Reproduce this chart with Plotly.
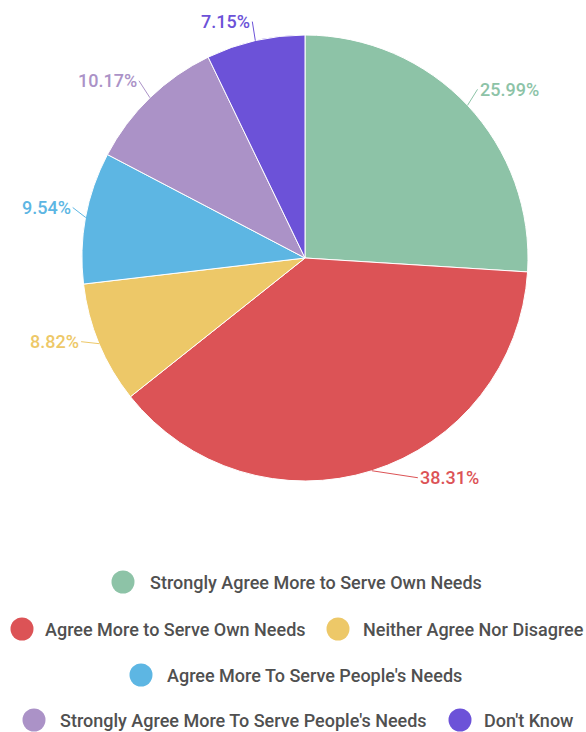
import math
import plotly.graph_objects as go

categories = [
    "Strongly Agree More to Serve Own Needs",
    "Agree More to Serve Own Needs",
    "Neither Agree Nor Disagree",
    "Agree More To Serve People's Needs",
    "Strongly Agree More To Serve People's Needs",
    "Don't Know",
]
values = [25.99, 38.31, 8.82, 9.54, 10.17, 7.15]
colors = ["#8DC3A7", "#DC5356", "#EDC868", "#5DB6E3", "#AB92C7", "#6C52D8"]

# style: label offsets (px) from slice arc midpoint, and text anchor side
label_offsets = [(10, -16, "left"), (46, 7, "left"), (-18, -2, "right"),
                 (-13, -10, "right"), (-11, -17, "right"), (-3, -19, "right")]

W, H = 586, 732

def px(x):
    return x / W

def py(y):
    return 1 - y / H

# pie geometry in page pixels
cx, cy, R = 305, 258, 223

fig = go.Figure()
fig.add_trace(go.Pie(
    labels=categories,
    values=values,
    sort=False,
    direction="clockwise",
    rotation=0,
    marker=dict(colors=colors, line=dict(color="white", width=1)),
    textinfo="none",
    showlegend=False,
    hoverinfo="label+percent",
    domain=dict(x=[px(cx - R), px(cx + R)], y=[py(cy + R), py(cy - R)]),
))

# percentage labels with leader lines at slice midpoints
total = sum(values)
cum = 0.0
for i, v in enumerate(values):
    mid = (cum + v / 2) / total * 2 * math.pi
    cum += v
    ax_pt = cx + R * math.sin(mid)
    ay_pt = cy - R * math.cos(mid)
    dx, dy, side = label_offsets[i]
    fig.add_annotation(
        xref="paper", yref="paper", x=px(ax_pt), y=py(ay_pt),
        text=f"{v:.2f}%", showarrow=True,
        ax=dx, ay=dy, axref="pixel", ayref="pixel",
        arrowhead=0, arrowwidth=1, arrowcolor=colors[i],
        xanchor=side, yanchor="middle",
        font=dict(family="Roboto", size=18, color=colors[i], weight=500),
    )

# custom legend: (row y px, [(circle x px, text x px, index)])
legend_rows = [
    (582, [(123, 148, 0)]),
    (629, [(22, 43, 1), (338, 361, 2)]),
    (675, [(141, 165, 3)]),
    (720, [(34, 58, 4), (460, 482, 5)]),
]
r = 11.5
for ypx, items in legend_rows:
    for ccx, tx, i in items:
        fig.add_shape(type="circle", xref="paper", yref="paper",
                      x0=px(ccx - r), x1=px(ccx + r),
                      y0=py(ypx + r), y1=py(ypx - r),
                      fillcolor=colors[i], line=dict(width=0))
        fig.add_annotation(xref="paper", yref="paper", x=px(tx), y=py(ypx),
                           text=categories[i], showarrow=False,
                           xanchor="left", yanchor="middle",
                           font=dict(family="Roboto", size=18, color="#505050", weight=500))

fig.update_layout(
    width=W, height=H,
    margin=dict(l=0, r=0, t=0, b=0),
    paper_bgcolor="white",
    plot_bgcolor="white",
)
fig.write_html(
    "out.html",
    config={"displayModeBar": False},
    post_script="document.body.style.margin='0';document.body.style.overflow='hidden';",
)
